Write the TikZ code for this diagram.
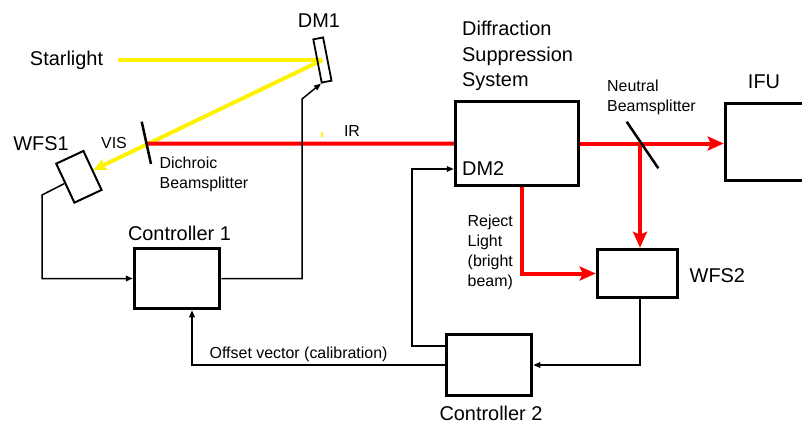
\documentclass[tikz,border=0pt]{standalone}
\usepackage{fontspec}
\setmainfont{Liberation Sans}
\usetikzlibrary{arrows.meta,calc}
\pgfdeclarelayer{background}
\pgfsetlayers{background,main}
\begin{document}
\begin{tikzpicture}[x=1bp,y=-1bp,
  bigt/.style={font=\fontsize{20}{24}\selectfont, inner sep=0pt},
  smallt/.style={font=\fontsize{16}{19}\selectfont, inner sep=0pt},
  box/.style={draw, line width=3.5bp, inner sep=0pt},
  thinbox/.style={draw, line width=2bp, inner sep=0pt},
  wire/.style={line width=1.5bp, -{Triangle[length=7bp,width=5.5bp]}},
  redbeam/.style={draw=red, line width=4bp},
  redarrow/.style={redbeam, -{Stealth[length=16bp,width=14bp,inset=3bp]}},
  ybeam/.style={draw=yellow, line width=4bp},
  mirror/.style={line width=2.5bp},
]
\useasboundingbox (0,0) rectangle (802,422);

% boxes
\node[box, minimum width=85bp, minimum height=60bp] (C1) at (177,278.5) {};
\node[box, minimum width=85bp, minimum height=61bp] (C2) at (489,365) {};
\node[box, minimum width=123bp, minimum height=84bp] (DSS) at (517,143.5) {};
\node[box, minimum width=85bp, minimum height=77bp] (IFU) at (768,142) {};
\node[box, minimum width=80bp, minimum height=48bp] (WFS2) at (637.5,273.5) {};
\node[thinbox, minimum width=30bp, minimum height=43bp, rotate=25] (WFS1) at (78.9,176.8) {};
\node[thinbox, line width=1.8bp, minimum width=10bp, minimum height=44bp, rotate=11] (DM1) at (322.4,60) {};

% mirrors / beamsplitters
\coordinate (dichA) at (141.7,121.7);
\coordinate (dichB) at (151,164);
\coordinate (dich) at ($(dichA)!0.52!(dichB)$);
\coordinate (nbsA) at (626.7,121.7);
\coordinate (nbsB) at (658.3,168.3);
\coordinate (star) at (118,60);
\coordinate (split) at (640,143.5);

% beams
\begin{pgfonlayer}{background}
\draw[ybeam] (star) -- (DM1.center);
\draw[ybeam, -{Stealth[length=13bp,width=12bp,inset=3bp]}] (DM1.center) -- (WFS1.east);
\draw[draw=yellow, line width=2bp] (322.3,131.5) -- (322.3,136.5);
\draw[redbeam] (dich) -- (DSS.west);
\draw[redarrow] (DSS.east) -- (IFU.west |- DSS.east);
\draw[redarrow] (split) -- (split |- WFS2.north);
\draw[redarrow] ([xshift=5bp]DSS.south) |- (WFS2.west);
\end{pgfonlayer}

\draw[mirror] (dichA) -- (dichB);
\draw[mirror] (nbsA) -- (nbsB);

% control wires
\draw[wire] (WFS1.west) -- (42,195) |- (C1.west);
\draw[wire] (C1.east) -| (302,99) -- (DM1.south west);
\draw[wire] (C2.west) -| ([xshift=15bp]C1.south);
\draw[wire] ([yshift=19bp]C2.west) -- ++(-33,0) |- ([yshift=-25.5bp]DSS.west);
\draw[wire] ([xshift=2.5bp]WFS2.south) |- (C2.east);

% labels
\node[bigt, anchor=base west] (tStar) at (29.8,65) {Starlight};
\node[bigt, anchor=base] (tDM1) at (319,27.6) {DM1};
\node[bigt, anchor=base] (tWFS1) at (41,150) {WFS1};
\node[smallt, anchor=base] (tVIS) at (114,148.5) {VIS};
\node[smallt, anchor=base] (tIR) at (352,136) {IR};
\node[smallt, anchor=base west] (tDich1) at (159.5,168.3) {Dichroic};
\node[smallt, anchor=base west] (tDich2) at (159.5,188.7) {Beamsplitter};
\node[bigt, anchor=base] (tC1) at (179.5,240) {Controller 1};
\node[smallt, anchor=base west] (tOff) at (209.5,358.3) {Offset vector (calibration)};
\node[bigt, anchor=base west] (tDSS1) at (462,35) {Diffraction};
\node[bigt, anchor=base west] (tDSS2) at (462,61.7) {Suppression};
\node[bigt, anchor=base west] (tDSS3) at (462,86.5) {System};
\node[smallt, anchor=base west] (tNBS1) at (607,91.7) {Neutral};
\node[smallt, anchor=base west] (tNBS2) at (607,111.7) {Beamsplitter};
\node[bigt, anchor=base] (tIFU) at (764,88.3) {IFU};
\node[bigt, anchor=base west] (tDM2) at (462,175) {DM2};
\node[smallt, anchor=base west] (tRej1) at (467.5,226.7) {Reject};
\node[smallt, anchor=base west] (tRej2) at (467.5,246.7) {Light};
\node[smallt, anchor=base west] (tRej3) at (467.5,266.7) {(bright};
\node[smallt, anchor=base west] (tRej4) at (467.5,286) {beam)};
\node[bigt, anchor=base west] (tWFS2) at (689.5,282.7) {WFS2};
\node[bigt, anchor=base] (tC2) at (491,420) {Controller 2};
\end{tikzpicture}
\end{document}
